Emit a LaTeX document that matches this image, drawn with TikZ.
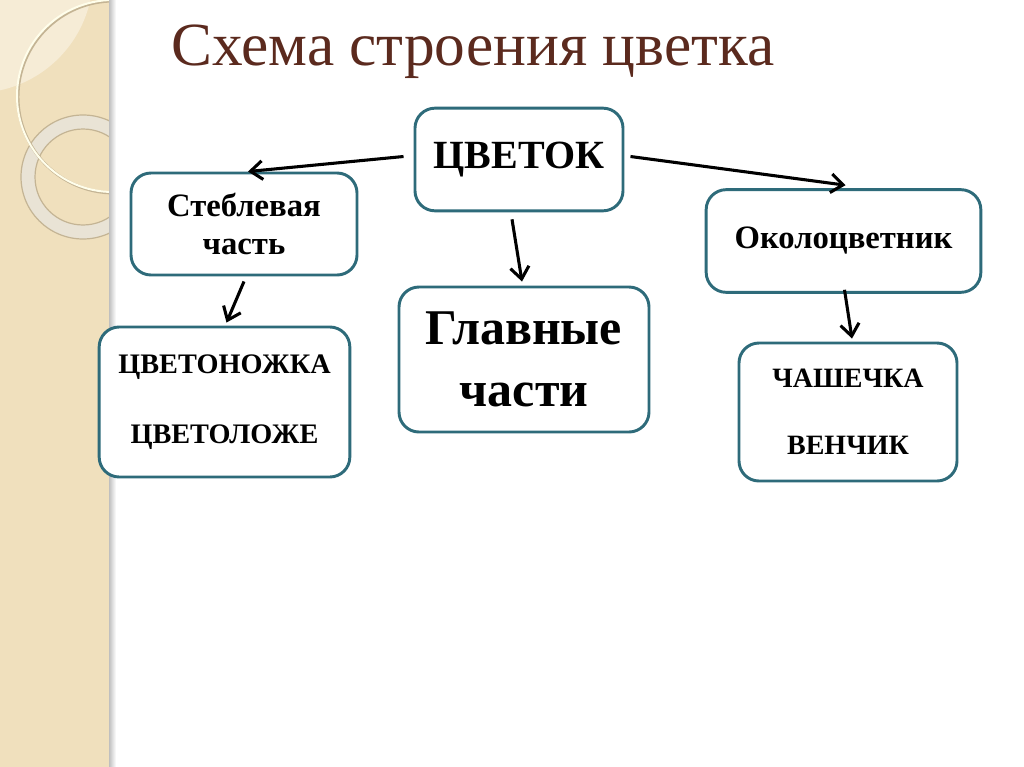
\documentclass[tikz,border=0pt]{standalone}
\usepackage{fontspec}
\setmainfont{Liberation Serif}
\usetikzlibrary{arrows.meta,calc}
\definecolor{strip}{HTML}{F0E0BD}
\definecolor{striplight}{HTML}{F6ECD6}
\definecolor{ringfill}{HTML}{E9E3D5}
\definecolor{ringedge}{HTML}{C4B494}
\definecolor{boxedge}{HTML}{2E6B7A}
\definecolor{titlecol}{HTML}{5B2A1E}
\tikzset{
  box/.style={draw=boxedge, line width=2.2pt, rounded corners=15pt, fill=white, align=center, inner sep=0pt},
  arr/.style={draw=black, line width=2.3pt, -{Straight Barb[length=9pt,width=14pt,line width=2.3pt]}},
}
\begin{document}
\begin{tikzpicture}[x=0.75pt,y=-0.75pt]
\useasboundingbox (0,0) rectangle (1024,767);
\fill[white] (0,0) rectangle (1024,767);
% decorative left strip
\begin{scope}
\clip (0,0) rectangle (110,767);
\fill[strip] (0,0) rectangle (110,767);
\fill[striplight] (-25,-25) circle (118);
\fill[ringfill, even odd rule] (83,177) circle (62) (83,177) circle (48);
\draw[ringedge, line width=0.9pt] (83,177) circle (62) (83,177) circle (48);
\draw[ringedge, line width=2.2pt] (114,97) circle (96);
\draw[white!92!yellow, line width=1.5pt] (113,96) circle (96);
\end{scope}
\shade[left color=black!25, right color=white] (109,0) rectangle (116,767);
% title
\node[anchor=base west, inner sep=0pt, text=titlecol, font=\fontsize{46}{54}\selectfont] (title) at (171,66) {Схема строения цветка};
% boxes
\node[box, minimum width=156pt, minimum height=77pt, font=\fontsize{30}{36}\selectfont\bfseries] (flower) at (519,159.5) {ЦВЕТОК};
\node[box, minimum width=169.5pt, minimum height=76.5pt, font=\fontsize{24.5}{28.5}\selectfont\bfseries] (stem) at (244,224) {Стеблевая\\часть};
\node[box, minimum width=206pt, minimum height=77pt, font=\fontsize{24.5}{28}\selectfont\bfseries] (peri) at (843.5,241) {Околоцветник};
\node[box, minimum width=187.5pt, minimum height=108.75pt, font=\fontsize{37.5}{47}\selectfont\bfseries] (main) at (524,359.5) {Главные\\части};
\node[box, minimum width=188pt, minimum height=112.5pt, font=\fontsize{21.2}{52.5}\selectfont\bfseries] (ped) at (224.5,402) {ЦВЕТОНОЖКА\\ЦВЕТОЛОЖЕ};
\node[box, minimum width=163.5pt, minimum height=103.5pt, font=\fontsize{21}{50}\selectfont\bfseries] (cup) at (848,412) {ЧАШЕЧКА\\ВЕНЧИК};
% arrows
\draw[arr] ([shift={(-10,-3)}]flower.west) -- ([shift={(4,0)}]stem.north);
\draw[arr] ([shift={(6,-3)}]flower.east) -- ([shift={(2,-3)}]peri.north);
\draw[arr] ([shift={(-7,7)}]flower.south) -- ([shift={(-2,-4)}]main.north);
\draw[arr] ([shift={(0,5)}]stem.south) -- ([shift={(2,-3)}]ped.north);
\draw[arr] ([shift={(1,-4)}]peri.south) -- ([shift={(4,-3)}]cup.north);
\end{tikzpicture}
\end{document}
